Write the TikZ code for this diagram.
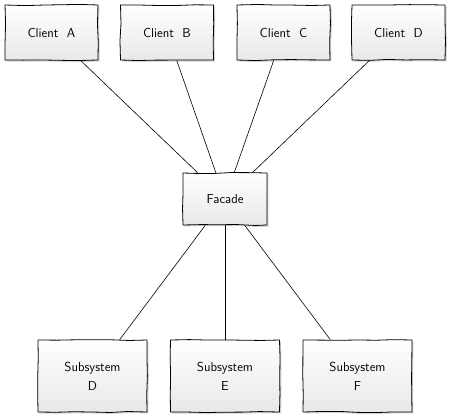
\documentclass[tikz,border=0pt]{standalone}
\usetikzlibrary{shadows,decorations.pathmorphing}
\tikzset{
    part/.style={draw, thick, align=center, font=\sffamily\fontsize{13}{19}\selectfont,
        top color=white, bottom color=gray!18,
        drop shadow={shadow xshift=1.5pt, shadow yshift=-1.5pt, opacity=0.35},
        decorate, decoration={random steps, segment length=18pt, amplitude=0.6pt},
        inner sep=0pt},
    client/.style={part, minimum width=93pt, minimum height=55pt},
    facade/.style={part, minimum width=84pt, minimum height=52pt},
    subsys/.style={part, minimum width=109pt, minimum height=72pt},
    link/.style={semithick},
}
\begin{document}
\begin{tikzpicture}[x=1pt, y=-1pt]
            \useasboundingbox (0,0) rectangle (450,418);

            \node[client] (cA) at (51.5,32.5) {Client\ \ A};
            \node[client] (cB) at (167,32.5) {Client\ \ B};
            \node[client] (cC) at (283.5,32.5) {Client\ \ C};
            \node[client] (cD) at (398.5,32.5) {Client\ \ D};

            \node[facade] (fac) at (225,199) {Facade};

            \node[subsys] (sD) at (92.5,376) {Subsystem\\D};
            \node[subsys] (sE) at (225,376) {Subsystem\\E};
            \node[subsys] (sF) at (357.5,376) {Subsystem\\F};

            \draw[link] (cA) to (fac);
            \draw[link] (cB) to (fac);
            \draw[link] (cC) to (fac);
            \draw[link] (cD) to (fac);
            \draw[link] (fac) to (sD);
            \draw[link] (fac) to (sE);
            \draw[link] (fac) to (sF);
        \end{tikzpicture}
\end{document}
